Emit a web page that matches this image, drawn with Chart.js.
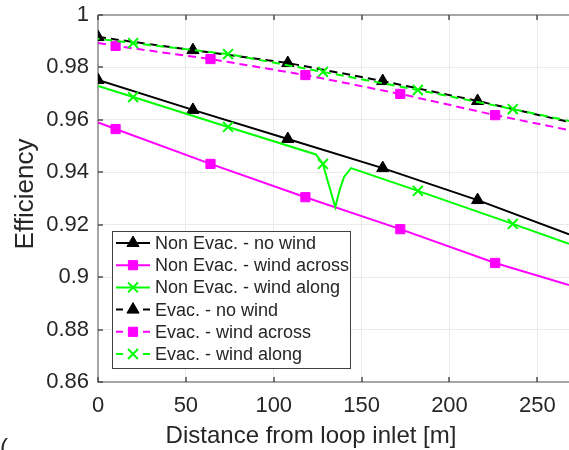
<!DOCTYPE html>
<html>
<head>
<meta charset="utf-8">
<script src="https://cdn.jsdelivr.net/npm/chart.js@4"></script>
<style>
  html, body { margin: 0; padding: 0; background: #fff; }
  #wrap { width: 569px; height: 450px; }
</style>
</head>
<body>
<div id="wrap"><canvas id="chart" width="569" height="450"></canvas></div>
<script>
// values (x = distance [m], y = efficiency)
const seriesNames = [
  'Non Evac. - no wind',
  'Non Evac. - wind across',
  'Non Evac. - wind along',
  'Evac. - no wind',
  'Evac. - wind across',
  'Evac. - wind along'
];

const nonEvacNoWindX = [0, 54, 108, 162, 216, 268];
const nonEvacNoWindY = [0.9752, 0.9638, 0.9527, 0.9416, 0.9294, 0.9163];

const nonEvacAcrossX = [0, 10, 64, 118, 172, 226, 268];
const nonEvacAcrossY = [0.9590, 0.9565, 0.9432, 0.9305, 0.9183, 0.9054, 0.8970];

const nonEvacAlongX = [0, 20, 74, 124, 128, 131, 135, 137.5, 140, 144, 182, 236, 268];
const nonEvacAlongY = [0.9729, 0.9687, 0.9573, 0.9468, 0.9432, 0.9360, 0.9267, 0.9332, 0.9382, 0.9416, 0.9329, 0.9203, 0.9127];

const evacNoWindX = [0, 54, 108, 162, 216, 268];
const evacNoWindY = [0.9916, 0.9866, 0.9817, 0.9748, 0.9672, 0.9592];

const evacAcrossX = [0, 10, 64, 118, 172, 226, 268];
const evacAcrossY = [0.9893, 0.9882, 0.9832, 0.9771, 0.9699, 0.9618, 0.9561];

const evacAlongX = [0, 20, 74, 128, 182, 236, 268];
const evacAlongY = [0.9909, 0.9893, 0.9851, 0.9783, 0.9714, 0.9641, 0.9596];

// x positions that carry a marker
const noWindMarks = [0, 54, 108, 162, 216];
const acrossMarks = [10, 64, 118, 172, 226];
const alongMarks = [20, 74, 128, 182, 236];

const xTicks = [0, 50, 100, 150, 200, 250];
const yTicks = [0.86, 0.88, 0.9, 0.92, 0.94, 0.96, 0.98, 1];

const BLACK = '#000000', MAGENTA = '#ff00ff', GREEN = '#00ff00';
const TEXT = '#262626';

function pts(xs, ys) {
  return xs.map((x, i) => ({x: x, y: ys[i]}));
}

const styles = [
  {color: BLACK, marker: 'triangle', size: 7, dash: [], marks: noWindMarks},
  {color: MAGENTA, marker: 'rect', size: 6.5, dash: [], marks: acrossMarks},
  {color: GREEN, marker: 'crossRot', size: 7, dash: [], marks: alongMarks},
  {color: BLACK, marker: 'triangle', size: 7, dash: [8, 5], marks: noWindMarks},
  {color: MAGENTA, marker: 'rect', size: 6.5, dash: [8, 5], marks: acrossMarks},
  {color: GREEN, marker: 'crossRot', size: 7, dash: [8, 5], marks: alongMarks, offset: 6.5}
];

const allData = [
  pts(nonEvacNoWindX, nonEvacNoWindY),
  pts(nonEvacAcrossX, nonEvacAcrossY),
  pts(nonEvacAlongX, nonEvacAlongY),
  pts(evacNoWindX, evacNoWindY),
  pts(evacAcrossX, evacAcrossY),
  pts(evacAlongX, evacAlongY)
];

const datasets = allData.map((d, i) => {
  const s = styles[i];
  return {
    label: seriesNames[i],
    data: d,
    order: -i,
    showLine: true,
    tension: 0,
    borderColor: s.color,
    borderWidth: 2,
    borderDash: s.dash,
    borderDashOffset: s.offset || 0,
    pointStyle: s.marker,
    pointRadius: c => (c.raw && s.marks.includes(c.raw.x)) ? s.size : 0,
    pointHoverRadius: c => (c.raw && s.marks.includes(c.raw.x)) ? s.size : 0,
    pointBackgroundColor: s.color,
    pointBorderColor: s.color,
    pointBorderWidth: s.marker === 'crossRot' ? 2 : 1
  };
});

const matlabLook = {
  id: 'matlabLook',
  beforeDatasetsDraw(chart) {
    const {ctx, chartArea: a, scales} = chart;
    ctx.save();
    // axes box (right side is cut off by the picture edge)
    ctx.strokeStyle = '#a6a6a6';
    ctx.lineWidth = 2;
    ctx.beginPath();
    ctx.moveTo(a.left, a.top);
    ctx.lineTo(a.right, a.top);
    ctx.moveTo(a.left, a.top);
    ctx.lineTo(a.left, a.bottom);
    ctx.lineTo(a.right, a.bottom);
    ctx.stroke();
    // inner ticks
    ctx.strokeStyle = '#4d4d4d';
    ctx.lineWidth = 1.5;
    ctx.beginPath();
    xTicks.forEach(v => {
      const px = Math.round(scales.x.getPixelForValue(v));
      ctx.moveTo(px, a.bottom); ctx.lineTo(px, a.bottom - 5);
      ctx.moveTo(px, a.top); ctx.lineTo(px, a.top + 5);
    });
    yTicks.forEach(v => {
      const py = Math.round(scales.y.getPixelForValue(v));
      ctx.moveTo(a.left, py); ctx.lineTo(a.left + 5, py);
    });
    ctx.stroke();
    ctx.restore();
  },
  afterDraw(chart) {
    const {ctx} = chart;
    ctx.save();
    ctx.fillStyle = TEXT;
    // axis titles
    ctx.font = '24px "Liberation Sans", Arial, sans-serif';
    ctx.textAlign = 'center';
    ctx.textBaseline = 'alphabetic';
    ctx.fillText('Distance from loop inlet [m]', 311, 443);
    ctx.save();
    ctx.translate(33, 194);
    ctx.rotate(-Math.PI / 2);
    ctx.font = '26px "Liberation Sans", Arial, sans-serif';
    ctx.fillText('Efficiency', 0, 0);
    ctx.restore();
    ctx.textAlign = 'left';
    ctx.font = '24px "Liberation Sans", Arial, sans-serif';
    ctx.fillText('(', 0, 455);

    // legend
    const lx = 112, ly = 231, lw = 238, lh = 137;
    ctx.fillStyle = '#ffffff';
    ctx.fillRect(lx, ly, lw, lh);
    ctx.strokeStyle = '#404040';
    ctx.lineWidth = 1;
    ctx.strokeRect(lx + 0.5, ly + 0.5, lw, lh);
    ctx.font = '18px "Liberation Sans", Arial, sans-serif';
    ctx.textBaseline = 'middle';
    seriesNames.forEach((name, i) => {
      const s = styles[i];
      const y = ly + 12 + i * 22.2;
      ctx.strokeStyle = s.color;
      ctx.lineWidth = 2;
      ctx.setLineDash(s.dash.length ? [7, 20] : []);
      ctx.beginPath();
      ctx.moveTo(116, y);
      ctx.lineTo(150, y);
      ctx.stroke();
      ctx.setLineDash([]);
      ctx.fillStyle = s.color;
      ctx.lineWidth = s.marker === 'crossRot' ? 2 : 1;
      Chart.helpers.drawPoint(ctx, {pointStyle: s.marker, radius: s.size, rotation: 0, borderWidth: ctx.lineWidth}, 133, y);
      ctx.fillStyle = TEXT;
      ctx.fillText(name, 155, y + 1);
    });
    ctx.restore();
  }
};

new Chart(document.getElementById('chart'), {
  type: 'scatter',
  data: {datasets: datasets},
  options: {
    responsive: false,
    animation: false,
    layout: {autoPadding: false, padding: {top: 15, right: 0, left: 0, bottom: 0}},
    plugins: {legend: {display: false}, tooltip: {enabled: false}},
    scales: {
      x: {
        type: 'linear',
        min: 0,
        max: 268,
        afterFit: s => { s.height = 68; s.paddingLeft = 0; s.paddingRight = 0; },
        afterBuildTicks: s => { s.ticks = xTicks.map(v => ({value: v})); },
        grid: {color: '#ebebeb', lineWidth: 1, drawTicks: false},
        border: {display: false},
        ticks: {
          padding: 11,
          color: TEXT,
          font: {family: '"Liberation Sans", Arial, sans-serif', size: 22},
          maxRotation: 0,
          callback: v => String(v)
        }
      },
      y: {
        type: 'linear',
        min: 0.86,
        max: 1,
        afterFit: s => { s.width = 98; s.paddingTop = 0; s.paddingBottom = 0; },
        afterBuildTicks: s => { s.ticks = yTicks.map(v => ({value: v})); },
        grid: {color: '#ebebeb', lineWidth: 1, drawTicks: false},
        border: {display: false},
        ticks: {
          padding: 9,
          color: TEXT,
          font: {family: '"Liberation Sans", Arial, sans-serif', size: 22},
          callback: v => String(+v.toFixed(2))
        }
      }
    }
  },
  plugins: [matlabLook]
});
</script>
</body>
</html>
